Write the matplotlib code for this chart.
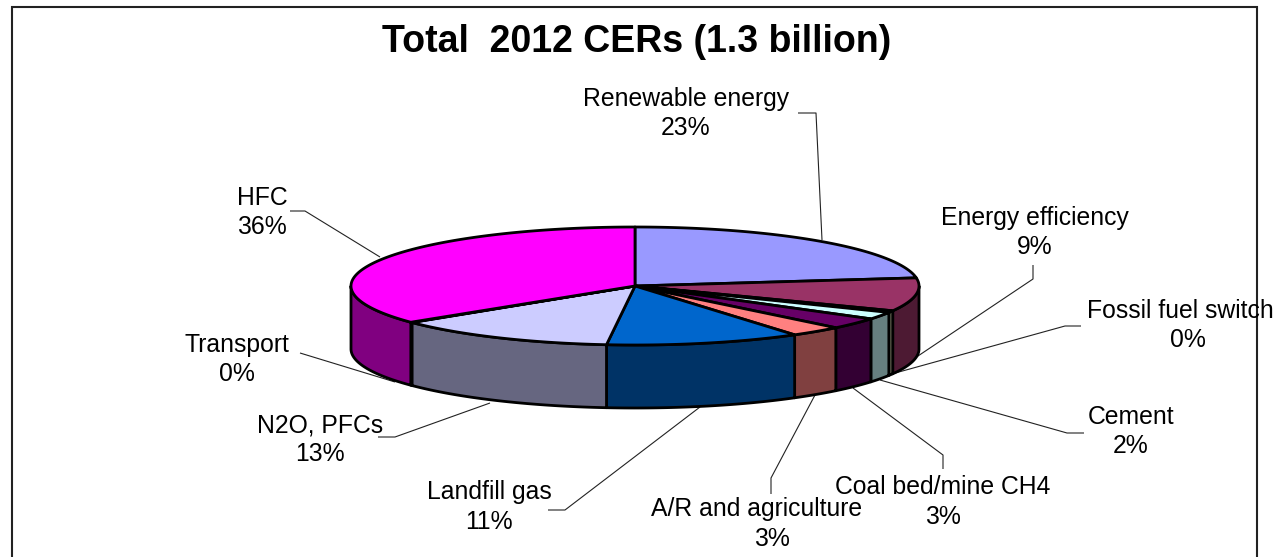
import numpy as np
import matplotlib
matplotlib.use("Agg")
import matplotlib.pyplot as plt
from matplotlib.patches import Polygon, Rectangle

plt.rcParams['font.family'] = ['Liberation Sans', 'DejaVu Sans']

# --- data (clockwise from 12 o'clock) ---
categories = ["Renewable energy", "Energy efficiency", "Fossil fuel switch", "Cement",
              "Coal bed/mine CH4", "A/R and agriculture", "Landfill gas", "N2O, PFCs",
              "Transport", "HFC"]
shares = [22.8, 9.1, 0.5, 2.0, 3.1, 3.0, 11.1, 12.78, 0.1, 35.52]
title = "Total  2012 CERs (1.3 billion)"

# --- styles ---
top_colors = ["#9999FF", "#993366", "#FFFFCC", "#CCFFFF", "#660066",
              "#FF8080", "#0066CC", "#CCCCFF", "#000080", "#FF00FF"]
side_colors = ["#4D4D80", "#4D1A33", "#80806A", "#668080", "#330033",
               "#804040", "#003366", "#666680", "#000040", "#800080"]

# --- layout, in image pixels ---
W, H = 1274, 557
CX, CY, RX, RY, DEPTH = 635, 286, 284, 59, 63
label_pos = [(686, 99, 128), (1035, 218, 247), (1180, 311, 340), (1131, 417, 446),
             (943, 487, 517), (757, 509, 539), (489, 492, 522), (320, 425, 454),
             (237, 345, 374), (262, 198, 227)]
pct_dx = [0, 0, 8, 0, 0, 15, 0, 0, 0, 0]
leaders = [[(822, 240), (816, 113), (798, 113)],
           [(915, 358), (1033, 279), (1033, 265)],
           [(888, 375), (1065, 326), (1081, 326)],
           [(880, 380), (1067, 433), (1084, 433)],
           [(853, 388), (943, 455), (943, 469)],
           [(815, 395), (771, 478), (771, 494)],
           [(700, 407), (565, 510), (548, 510)],
           [(490, 403), (395, 437), (378, 437)],
           [(395, 382), (300, 353)],
           [(380, 257), (305, 211), (290, 211)]]

fig = plt.figure(figsize=(W / 100, H / 100), dpi=100)
ax = fig.add_axes([0, 0, 1, 1])
ax.set_xlim(0, W)
ax.set_ylim(H, 0)
ax.axis("off")

ax.add_patch(Rectangle((12, 7), 1245, 560, fc="white", ec="#222222", lw=1.5, zorder=0))

total = sum(shares)
edges = np.concatenate([[0], np.cumsum(shares)]) / total * 2 * np.pi


def rim(a, b, n=120):
    t = np.linspace(a, b, n)
    return CX + RX * np.sin(t), CY - RY * np.cos(t)


for i in range(len(shares)):
    a, b = edges[i], edges[i + 1]
    # visible outer wall: the part of the slice on the near half of the ellipse
    lo, hi = max(a, np.pi / 2), min(b, 3 * np.pi / 2)
    if hi > lo:
        x, y = rim(lo, hi)
        pts = np.column_stack([np.r_[x, x[::-1]], np.r_[y, y[::-1] + DEPTH]])
        ax.add_patch(Polygon(pts, closed=True, fc=side_colors[i], ec="black", lw=2,
                             joinstyle="round", zorder=2))
    x, y = rim(a, b)
    pts = np.column_stack([np.r_[CX, x], np.r_[CY, y]])
    ax.add_patch(Polygon(pts, closed=True, fc=top_colors[i], ec="black", lw=2,
                         joinstyle="round", zorder=3))

for pts in leaders:
    xs, ys = zip(*pts)
    ax.plot(xs, ys, color="#222222", lw=0.8, zorder=1, solid_capstyle="butt")

for i, name in enumerate(categories):
    lx, y1, y2 = label_pos[i]
    ax.text(lx, y1, name, ha="center", va="center", fontsize=17.8, color="black", zorder=5)
    ax.text(lx + pct_dx[i], y2, f"{shares[i] / total * 100:.0f}%", ha="center", va="center",
            fontsize=17.8, color="black", zorder=5)

ax.text(637, 42, title, ha="center", va="center", fontsize=27, fontweight="bold",
        color="black", zorder=5)

fig.savefig("out.png", dpi=100)
